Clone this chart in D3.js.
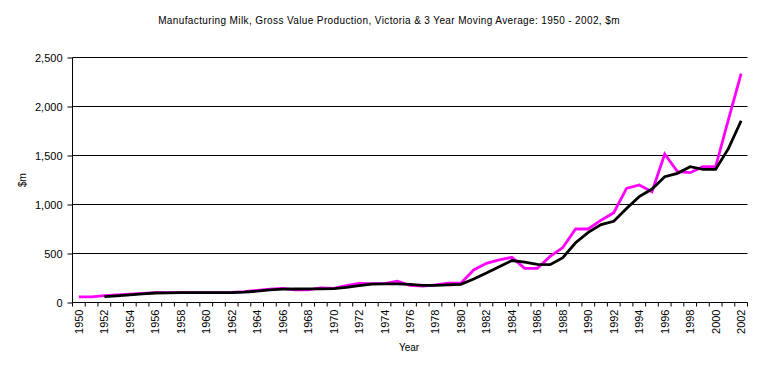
<!DOCTYPE html>
<html>
<head>
<meta charset="utf-8">
<script src="https://cdn.jsdelivr.net/npm/d3@7"></script>
<style>
  body { margin: 0; background: #fff; }
  svg text { font-family: "Liberation Sans", Arial, sans-serif; fill: #000; }
</style>
</head>
<body>
<div id="chart"></div>
<script>
// years on the category axis
const years = d3.range(1950, 2003);

// gross value of production, $m
const actual = [58, 58, 70, 78, 86, 94, 100, 100, 100, 100, 100, 100, 104, 112, 124, 135, 145, 128, 128, 150,
  145, 172, 195, 193, 193, 218, 176, 168, 180, 197, 197, 332, 400, 434, 461, 349, 349, 470, 560, 750,
  750, 840, 916, 1165, 1199, 1131, 1515, 1335, 1325, 1386, 1386, 1865, 2335];

// 3 year moving average, starts 1952
const movingAvg = [null, null, 60, 68, 78, 88, 97, 99, 100, 100, 100, 100, 101, 106, 116, 128, 136, 138, 139, 139,
  142, 155, 172, 187, 190, 190, 184, 174, 175, 180, 185, 240, 300, 365, 428, 413, 389, 386, 458, 610,
  715, 795, 828, 960, 1080, 1158, 1284, 1318, 1386, 1359, 1359, 1570, 1855];

const yTicks = [0, 500, 1000, 1500, 2000, 2500];

const width = 762, height = 371;
const margin = { top: 57.5, right: 14.5, bottom: 68.5, left: 72.5 };

const svg = d3.select("#chart")
  .append("svg")
  .attr("width", width)
  .attr("height", height);

const x = d3.scaleBand()
  .domain(years)
  .range([margin.left, width - margin.right])
  .padding(0);

const y = d3.scaleLinear()
  .domain([0, 2500])
  .range([height - margin.bottom, margin.top]);

const cx = d => x(d) + x.bandwidth() / 2;

// title
svg.append("text")
  .attr("x", 389)
  .attr("y", 24)
  .attr("text-anchor", "middle")
  .style("font-size", "10px")
  .style("letter-spacing", "0.38px")
  .text("Manufacturing Milk,  Gross Value Production, Victoria & 3 Year Moving Average: 1950 - 2002, $m");

// gridlines
svg.append("g")
  .selectAll("line")
  .data(yTicks.filter(d => d > 0))
  .join("line")
  .attr("x1", margin.left)
  .attr("x2", width - margin.right)
  .attr("y1", d => y(d))
  .attr("y2", d => y(d))
  .attr("stroke", "#000")
  .attr("stroke-width", 1);

// y axis
const yAxis = svg.append("g")
  .attr("transform", `translate(${margin.left},0)`)
  .call(d3.axisLeft(y).tickValues(yTicks).tickSize(5).tickPadding(5).tickFormat(d3.format(",")));
yAxis.select(".domain").attr("stroke", "#000").attr("d", `M-0,${y(2500)}V${y(0)}`);
yAxis.selectAll("text").style("font-size", "11px");

// x axis - ticks between categories, labels every 2nd year
const xg = svg.append("g")
  .attr("transform", `translate(0,${y(0)})`);
xg.append("line")
  .attr("x1", margin.left).attr("x2", width - margin.right)
  .attr("stroke", "#000");
xg.selectAll(".tk")
  .data(years.concat([2003]))
  .join("line")
  .attr("class", "tk")
  .attr("x1", d => d === 2003 ? width - margin.right : x(d))
  .attr("x2", d => d === 2003 ? width - margin.right : x(d))
  .attr("y1", 0).attr("y2", 4)
  .attr("stroke", "#000");
xg.selectAll(".lbl")
  .data(years.filter(d => d % 2 === 0))
  .join("text")
  .attr("class", "lbl")
  .attr("transform", d => `translate(${cx(d) + 4},7) rotate(-90)`)
  .attr("text-anchor", "end")
  .style("font-size", "11px")
  .text(d => d);

// axis titles
svg.append("text")
  .attr("x", 409).attr("y", 351)
  .attr("text-anchor", "middle")
  .style("font-size", "10px")
  .text("Year");

svg.append("text")
  .attr("transform", `translate(26,180) rotate(-90)`)
  .attr("text-anchor", "middle")
  .style("font-size", "10px")
  .text("$m");

// lines
const line = d3.line()
  .defined(d => d[1] != null)
  .x(d => cx(d[0]))
  .y(d => y(d[1]));

svg.append("path")
  .datum(years.map((yr, i) => [yr, actual[i]]))
  .attr("d", line)
  .attr("fill", "none")
  .attr("stroke", "#ff00ff")
  .attr("stroke-width", 2.8);

svg.append("path")
  .datum(years.map((yr, i) => [yr, movingAvg[i]]))
  .attr("d", line)
  .attr("fill", "none")
  .attr("stroke", "#000")
  .attr("stroke-width", 2.8);
</script>
</body>
</html>
